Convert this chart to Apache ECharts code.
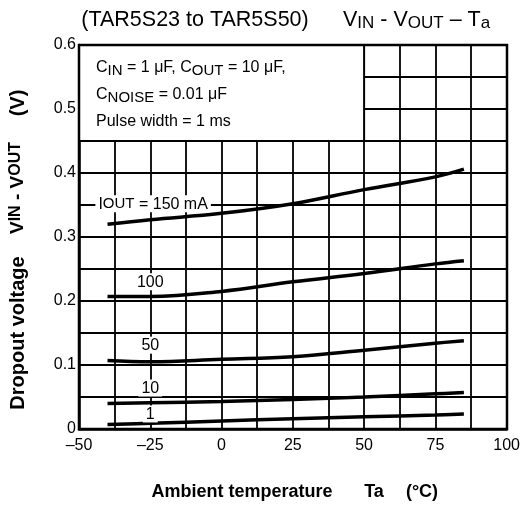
<!DOCTYPE html>
<html>
<head>
<meta charset="utf-8">
<script src="https://cdn.jsdelivr.net/npm/echarts@6/dist/echarts.min.js"></script>
<style>
  html, body { margin: 0; padding: 0; background: #fff; }
  #chart { width: 523px; height: 512px; }
</style>
</head>
<body>
<div id="chart"></div>
<script>
// temperatures (°C) where the curves were read
const temps = [-40, -25, 0, 25, 50, 75, 85];

// dropout voltage (V) for each output current
const v150 = [0.320, 0.327, 0.337, 0.352, 0.374, 0.394, 0.406];
const v100 = [0.207, 0.207, 0.215, 0.230, 0.243, 0.258, 0.263];
const v50 = [0.107, 0.105, 0.109, 0.113, 0.123, 0.134, 0.138];
const v10 = [0.040, 0.041, 0.043, 0.046, 0.050, 0.055, 0.057];
const v1 = [0.007, 0.009, 0.0125, 0.016, 0.019, 0.022, 0.0234];

const curveNames = ['IOUT = 150 mA', '100', '50', '10', '1'];
const curves = [v150, v100, v50, v10, v1];

const xTicks = [-50, -25, 0, 25, 50, 75, 100];
const yTicks = [0, 0.1, 0.2, 0.3, 0.4, 0.5, 0.6];

const font = 'Liberation Sans, Arial, sans-serif';

let myChart = echarts.init(document.getElementById('chart'));

// where each curve's label sits (data coords)
const labelAt = [[-24, 0.352], [-25, 0.230], [-25, 0.131], [-25, 0.064], [-25, 0.0235]];

const lineSeries = curves.map((vals, i) => ({
    name: curveNames[i],
    type: 'line',
    smooth: 0.4,
    symbol: 'none',
    z: 5,
    lineStyle: { color: '#000', width: 3.5 },
    data: temps.map((t, k) => [t, vals[k]])
}));

// white legend box in the upper left
lineSeries[0].markArea = {
    silent: true,
    z: 3,
    itemStyle: { color: '#fff', borderColor: '#000', borderWidth: 2, opacity: 1 },
    data: [[{ coord: [-50, 0.45] }, { coord: [50, 0.6] }]]
};

const labelSeries = {
    type: 'scatter',
    symbolSize: 0,
    z: 6,
    silent: true,
    itemStyle: { opacity: 1, color: '#000' },
    data: labelAt.map((p, i) => ({ value: p, name: curveNames[i] })),
    label: {
        show: true,
        position: 'inside',
        opacity: 1,
        formatter: p => p.dataIndex === 0 ? 'I{s|OUT} = 150 mA' : p.name,
        color: '#000',
        fontFamily: font,
        fontSize: 16,
        backgroundColor: '#fff',
        padding: [1, 3, 0, 3],
        rich: { s: { fontFamily: font, fontSize: 15, color: '#000' } }
    }
};

const sub = { fontFamily: font, fontSize: 15, padding: [5, 0, 0, 0], fill: '#000' };
const subBig = { fontFamily: font, fontSize: 17, padding: [7, 0, 0, 0] };
const subBold = { fontFamily: font, fontSize: 16, fontWeight: 'bold', padding: [0, 0, 4, 0] };

function txt(x, y, text, size, extra) {
    return Object.assign({
        type: 'text', x: x, y: y, z: 10, silent: true,
        style: Object.assign({
            text: text, font: size + 'px ' + font, fill: '#000',
            align: 'center', verticalAlign: 'middle'
        }, extra || {})
    });
}

myChart.setOption({
    animation: false,
    grid: { left: 79, right: 16, top: 45, bottom: 83 },
    xAxis: {
        type: 'value',
        min: -50, max: 100, interval: 12.5,
        axisLine: { show: true, lineStyle: { color: '#000', width: 2.5 } },
        axisTick: { show: false },
        splitLine: { show: true, lineStyle: { color: '#000', width: 1.8 } },
        axisLabel: {
            color: '#000', fontFamily: font, fontSize: 16, margin: 9,
            formatter: v => xTicks.indexOf(v) >= 0 ? String(v).replace('-', '\u2013') : ''
        }
    },
    yAxis: {
        type: 'value',
        min: 0, max: 0.6, interval: 0.05,
        axisLine: { show: true, onZero: false, lineStyle: { color: '#000', width: 2.5 } },
        axisTick: { show: false },
        splitLine: { show: true, lineStyle: { color: '#000', width: 1.8 } },
        axisLabel: {
            color: '#000', fontFamily: font, fontSize: 16, margin: 3,
            formatter: v => yTicks.some(t => Math.abs(t - v) < 1e-6) ? String(Math.round(v * 10) / 10) : ''
        }
    },
    graphic: [
        {   // frame on top of the grid
            type: 'rect', z: 10, silent: true,
            shape: { x: 79, y: 45, width: 428, height: 384 },
            style: { fill: 'none', stroke: '#000', lineWidth: 2.5 }
        },
        txt(195, 20, '(TAR5S23 to TAR5S50)', 21.5),
        txt(343, 20, 'V{s|IN} - V{s|OUT} \u2013 T{s|a}', 21.5, {
            align: 'left', rich: { s: subBig }
        }),
        txt(96, 68, 'C{s|IN} = 1 \u03bcF, C{s|OUT} = 10 \u03bcF,', 16, { align: 'left', rich: { s: sub } }),
        txt(96, 95, 'C{s|NOISE} = 0.01 \u03bcF', 16, { align: 'left', rich: { s: sub } }),
        txt(96, 122, 'Pulse width = 1 ms', 16, { align: 'left' }),
        // y axis name, three pieces rotated
        Object.assign(txt(18, 333, 'Dropout voltage', 20, { font: 'bold 20px ' + font }), { rotation: Math.PI / 2 }),
        Object.assign(txt(18, 188, 'V{s|IN} - V{s|OUT}', 19, { font: 'bold 19px ' + font, rich: { s: subBold } }), { rotation: Math.PI / 2 }),
        Object.assign(txt(18, 103, '(V)', 20, { font: 'bold 20px ' + font }), { rotation: Math.PI / 2 }),
        // x axis name
        txt(242, 492, 'Ambient temperature', 18, { font: 'bold 18px ' + font }),
        txt(374, 492, 'Ta', 18, { font: 'bold 18px ' + font }),
        txt(422, 492, '(\u00b0C)', 18, { font: 'bold 18px ' + font })
    ],
    series: lineSeries.concat([labelSeries])
});
</script>
</body>
</html>
